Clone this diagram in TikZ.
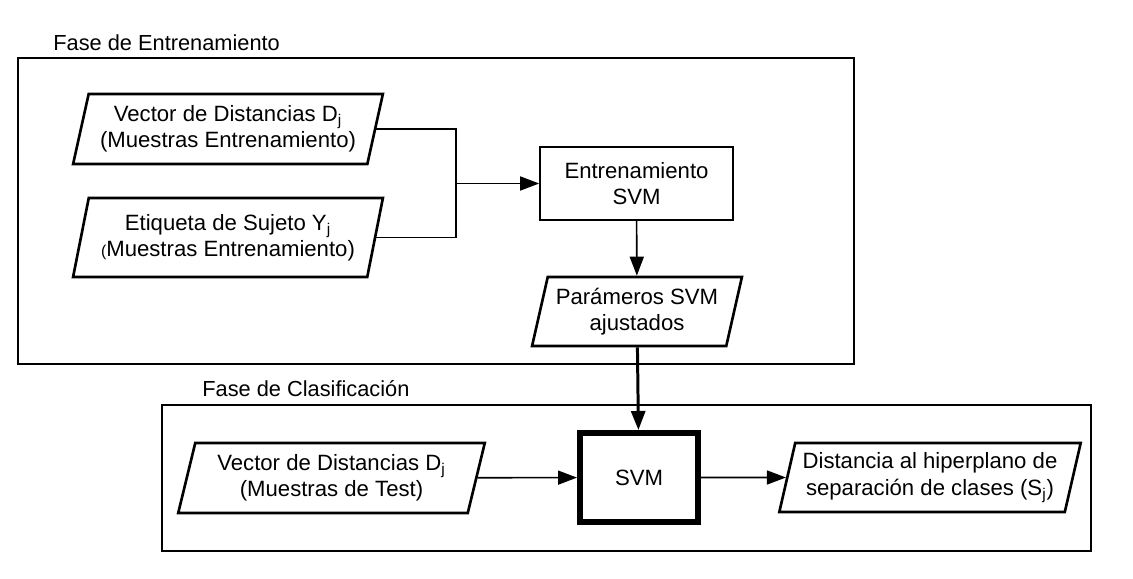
\documentclass[tikz,border=0pt]{standalone}
\usepackage{fontspec}
\setmainfont{Liberation Sans}
\usepackage{tikz}
\usetikzlibrary{positioning,arrows.meta,shapes.geometric}

\begin{document}
\begin{tikzpicture}[
  datos/.style={draw, line width=1.5pt, trapezium, trapezium left angle=74, trapezium right angle=106, trapezium stretches=true, align=center, font=\fontsize{12.6}{15}\selectfont, inner sep=1pt},
  proceso/.style={draw, line width=0.9pt, rectangle, align=center, font=\fontsize{12.6}{15}\selectfont},
  fase/.style={draw, line width=1.2pt},
  titulo/.style={anchor=west, font=\fontsize{12.4}{15}\selectfont, inner sep=0pt},
  flecha/.style={-{Triangle[length=3.8mm,width=2.8mm]}, line width=0.9pt},
  linea/.style={line width=0.9pt},
]
\useasboundingbox (0,0) rectangle (22.66,-11.58);
\draw[fase] (0.36,-1.16) rectangle (17.08,-7.28);
\draw[fase] (3.24,-8.10) rectangle (21.82,-11.02);
\node[titulo] (tent) at (1.06,-0.86) {Fase de Entrenamiento};
\node[titulo] (tcla) at (4.04,-7.78) {Fase de Clasificación};
\node[datos, minimum width=6.2cm, minimum height=1.4cm] (vec) at (4.56,-2.58) {Vector de Distancias D\textsubscript{j}\\(Muestras Entrenamiento)};
\node[datos, minimum width=6.2cm, minimum height=1.58cm] (etq) at (4.56,-4.75) {Etiqueta de Sujeto Y\textsubscript{j}\\{\fontsize{9}{9}\selectfont(}Muestras Entrenamiento)};
\node[proceso, minimum width=3.86cm, minimum height=1.46cm] (ent) at (12.73,-3.67) {Entrenamiento\\SVM};
\node[datos, minimum width=4.2cm, minimum height=1.38cm] (par) at (12.74,-6.23) {Parámeros SVM\\ajustados};
\node[proceso, line width=3.4pt, minimum width=2.36cm, minimum height=1.78cm] (svm) at (12.78,-9.55) {SVM};
\node[datos, minimum width=6.14cm, minimum height=1.4cm] (test) at (6.63,-9.56) {Vector de Distancias D\textsubscript{j}\\(Muestras de Test)};
\node[datos, minimum width=6.04cm, minimum height=1.38cm] (dist) at (18.6,-9.55) {Distancia al hiperplano de\\separación de clases (S\textsubscript{j})};
\coordinate (jn) at (9.12,-3.67);
\draw[linea] (vec.east) -| (jn);
\draw[linea] (etq.east) -| (jn);
\draw[flecha] (jn) -- (ent);
\draw[flecha] (ent) -- (par);
\draw[flecha, line width=1.7pt] (par) -- (svm);
\draw[flecha] (test) -- (svm);
\draw[flecha] (svm) -- (dist);
\end{tikzpicture}
\end{document}
